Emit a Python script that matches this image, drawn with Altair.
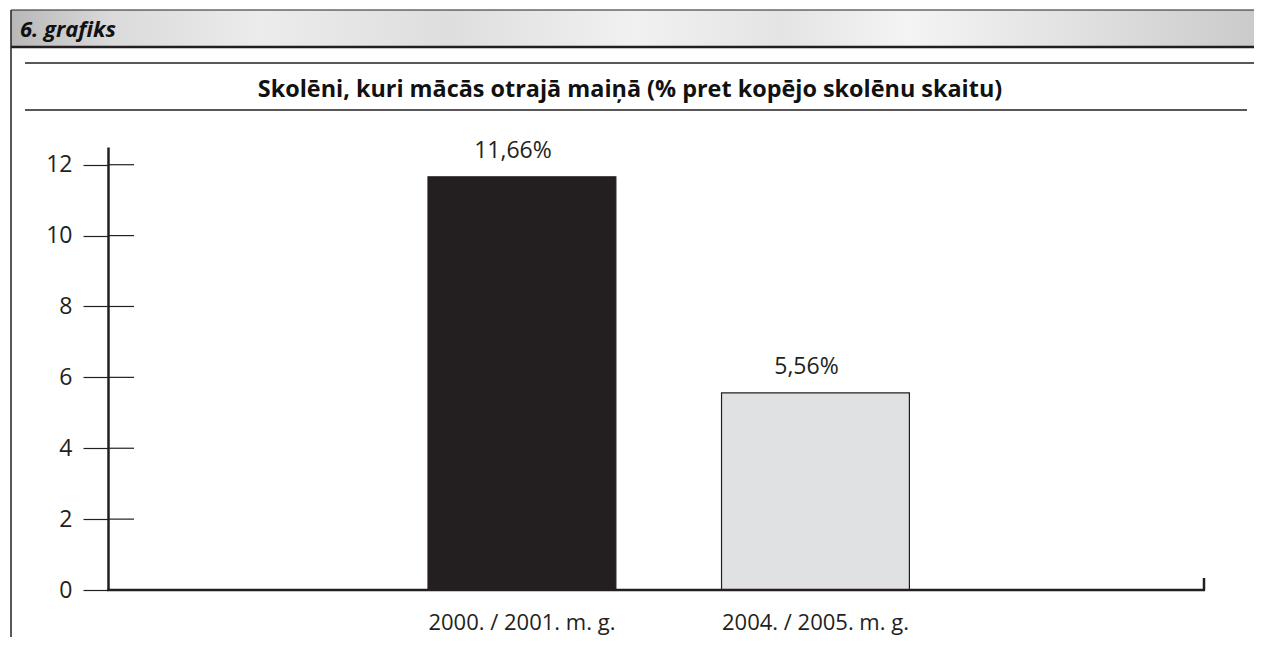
import altair as alt
import pandas as pd

# ---- data ----
categories = ["2000. / 2001. m. g.", "2004. / 2005. m. g."]
values = [11.66, 5.56]
bar_colors = ["#231f20", "#e0e1e3"]
y_ticks = [0, 2, 4, 6, 8, 10, 12]
title_text = "Skolēni, kuri mācās otrajā maiņā (% pret kopējo skolēnu skaitu)"
header_text = "6. grafiks"

FONT = "Open Sans"
INK = "#231f20"

W, H = 1097, 443

bars_df = pd.DataFrame({
    "cat": categories,
    "val": values,
    "label": [f"{v:.2f}".replace(".", ",") + "%" for v in values],
})
ticks_df = pd.DataFrame({"t": [t for t in y_ticks if t > 0]})
one = pd.DataFrame({"d": [0]})

x_scale = alt.Scale(domain=categories, range=[320, 801.4], paddingInner=0.36, paddingOuter=0)
y_scale = alt.Scale(domain=[0, 12.5], nice=False)

bars = alt.Chart(bars_df).mark_bar(stroke=INK, strokeWidth=1.2).encode(
    x=alt.X("cat:N", scale=x_scale, sort=categories,
            axis=alt.Axis(title=None, labelAngle=0, ticks=False, domain=False,
                          labelFontSize=22, labelColor=INK, labelLimit=500,
                          labelOverlap=False,
                          labelFont=FONT, labelPadding=22)),
    y=alt.Y("val:Q", scale=y_scale,
            axis=alt.Axis(title=None, values=y_ticks, grid=False, tickSize=25,
                          tickWidth=1.2, tickColor=INK, domainWidth=2.5, domainColor=INK,
                          labelFontSize=23, labelColor=INK, labelFont=FONT,
                          labelPadding=11)),
    color=alt.Color("cat:N", scale=alt.Scale(domain=categories, range=bar_colors), legend=None),
)

value_text = alt.Chart(bars_df).mark_text(
    font=FONT, fontSize=23, color=INK, baseline="alphabetic", dy=-19, dx=-9
).encode(
    x=alt.X("cat:N", scale=x_scale, sort=categories),
    y=alt.Y("val:Q", scale=y_scale),
    text="label:N",
)

right_ticks = alt.Chart(ticks_df).mark_rule(color=INK, strokeWidth=1.2).encode(
    x=alt.value(0), x2=alt.value(26), y=alt.Y("t:Q", scale=y_scale)
)

baseline = alt.Chart(one).mark_rule(color=INK, strokeWidth=2.5).encode(
    x=alt.value(-1), x2=alt.value(W), y=alt.value(H)
)
end_tick = alt.Chart(one).mark_rule(color=INK, strokeWidth=2.5).encode(
    x=alt.value(W - 1), y=alt.value(H - 12), y2=alt.value(H)
)

# ---- decorations around the plot ----
header_bg = alt.Chart(one).mark_rect(
    color=alt.Gradient(
        gradient="linear", x1=0, x2=1, y1=0, y2=0,
        stops=[
            alt.GradientStop(color="#b8b8b8", offset=0),
            alt.GradientStop(color="#dadada", offset=0.08),
            alt.GradientStop(color="#ececec", offset=0.2),
            alt.GradientStop(color="#dedede", offset=0.35),
            alt.GradientStop(color="#f1f1f1", offset=0.5),
            alt.GradientStop(color="#e4e4e4", offset=0.62),
            alt.GradientStop(color="#f4f4f4", offset=0.72),
            alt.GradientStop(color="#e0e0e0", offset=0.86),
            alt.GradientStop(color="#cacaca", offset=1),
        ],
    )
).encode(x=alt.value(-97), x2=alt.value(1150), y=alt.value(-137), y2=alt.value(-100))

header_top = alt.Chart(one).mark_rule(color=INK, strokeWidth=1.2).encode(
    x=alt.value(-97), x2=alt.value(1150), y=alt.value(-137)
)
header_bottom = alt.Chart(one).mark_rule(color=INK, strokeWidth=2.5).encode(
    x=alt.value(-97), x2=alt.value(1150), y=alt.value(-100)
)
left_border = alt.Chart(one).mark_rule(color=INK, strokeWidth=1.5).encode(
    x=alt.value(-97), y=alt.value(-137), y2=alt.value(H + 47)
)
line1 = alt.Chart(one).mark_rule(color=INK, strokeWidth=1.5).encode(
    x=alt.value(-83), x2=alt.value(1147), y=alt.value(-84)
)
line2 = alt.Chart(one).mark_rule(color=INK, strokeWidth=1.5).encode(
    x=alt.value(-83), x2=alt.value(1139), y=alt.value(-37)
)
header_label = alt.Chart(one).mark_text(
    text=header_text, font=FONT, fontSize=22, fontWeight="bold", fontStyle="italic",
    color="#111111", align="left", baseline="alphabetic"
).encode(x=alt.value(-88), y=alt.value(-110))

title = alt.Chart(one).mark_text(
    text=title_text, font=FONT, fontSize=23.4, fontWeight="bold",
    color="#111111", align="center", baseline="alphabetic"
).encode(x=alt.value(522), y=alt.value(-50))

chart = alt.layer(
    header_bg, header_top, header_bottom, left_border, line1, line2, header_label, title,
    bars, value_text, right_ticks, baseline, end_tick,
).properties(
    width=W, height=H,
    autosize=alt.AutoSizeParams(type="none"),
    padding={"left": 100, "top": 139, "right": 49, "bottom": 47},
    background="white",
).configure_view(stroke=None)

chart.save("out.html", embed_options={"renderer": "svg", "actions": False})
